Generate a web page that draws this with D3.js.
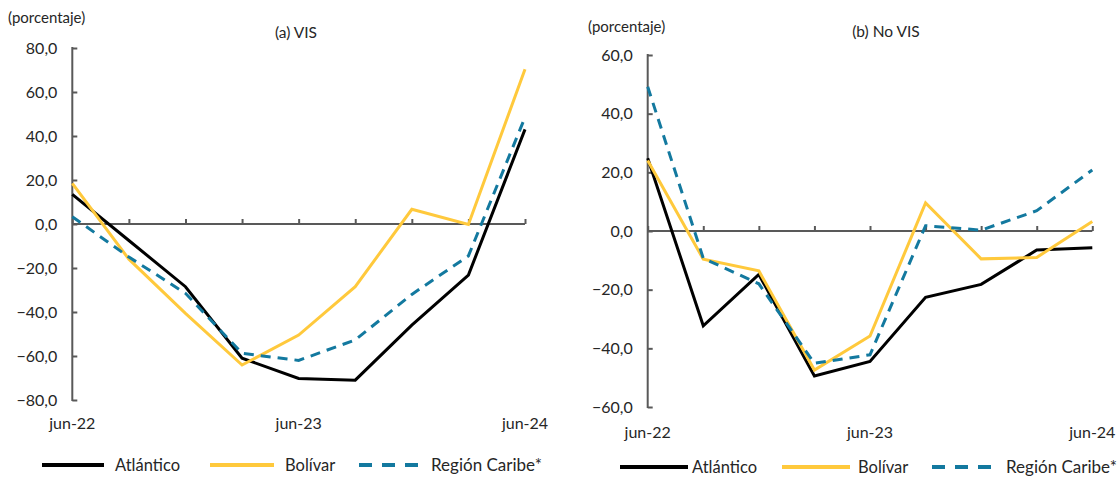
<!DOCTYPE html>
<html>
<head>
<meta charset="utf-8">
<script src="https://cdn.jsdelivr.net/npm/d3@7"></script>
<style>
  html, body { margin: 0; padding: 0; background: #fff; }
  svg { display: block; font-family: Lato, "Open Sans", sans-serif; }
</style>
</head>
<body>
<svg id="chart" width="1120" height="478"></svg>
<script>
// Quarterly periods, jun-22 .. jun-24
const periods = ["jun-22", "sep-22", "dic-22", "mar-23", "jun-23", "sep-23", "dic-23", "mar-24", "jun-24"];
const periodLabels = ["jun-22", "jun-23", "jun-24"];

// (a) VIS — annual variation, percent
const visAtlantico = [13.5, -7.5, -28.5, -61.0, -70.2, -71.0, -46.0, -23.2, 43.0];
const visBolivar   = [18.5, -16.0, -40.6, -64.1, -50.5, -28.5, 6.7, -0.2, 70.3];
const visCaribe    = [3.3, -15.0, -31.5, -58.8, -62.0, -52.7, -32.0, -14.5, 48.5];
const visTicks     = [80, 60, 40, 20, 0, -20, -40, -60, -80];

// (b) No VIS — annual variation, percent
const noVisAtlantico = [24.8, -32.3, -14.8, -49.4, -44.5, -22.6, -18.2, -6.5, -5.7];
const noVisBolivar   = [24.0, -9.6, -13.6, -47.4, -35.8, 9.6, -9.5, -9.0, 3.2];
const noVisCaribe    = [49.2, -9.3, -18.0, -45.1, -42.2, 1.8, 0.3, 6.9, 20.8];
const noVisTicks     = [60, 40, 20, 0, -20, -40, -60];

const seriesNames = ["Atlántico", "Bolívar", "Región Caribe*"];
const seriesStyle = [
  { color: "#000000", dash: null, legendDash: null },
  { color: "#FFC93C", dash: null, legendDash: null },
  { color: "#13799F", dash: "10,7", legendDash: "13,10" }
];

const textColor = "#262626";
const axisColor = "#595959";

const svg = d3.select("#chart");

function panel(cfg) {
  const g = svg.append("g");
  const x = d3.scalePoint().domain(periods).range([cfg.x0, cfg.x1]);
  const y = d3.scaleLinear().domain([cfg.min, cfg.max]).range([cfg.yBottom, cfg.yTop]);

  // unit caption and panel title
  g.append("text").attr("x", cfg.unitX).attr("y", cfg.unitY)
    .attr("font-size", 15).attr("fill", textColor).text("(porcentaje)");
  g.append("text").attr("x", cfg.titleX).attr("y", cfg.titleY)
    .attr("text-anchor", "middle").attr("font-size", 15.5).attr("fill", textColor).text(cfg.title);

  // vertical axis: labels on the left, tick marks pointing into the plot
  const yAxis = d3.axisLeft(y).tickValues(cfg.ticks).tickSizeInner(-5).tickSizeOuter(0).tickPadding(15)
    .tickFormat(d => d3.format(".1f")(d).replace(".", ","));
  const ya = g.append("g").attr("transform", `translate(${cfg.x0},0)`).call(yAxis);
  ya.select(".domain").remove();
  ya.append("line").attr("x1", 0).attr("x2", 0).attr("y1", y(cfg.max) - 1).attr("y2", y(cfg.min) + 1)
    .attr("stroke", axisColor).attr("stroke-width", 2);
  ya.selectAll(".tick line").attr("stroke", axisColor).attr("stroke-width", 2);
  ya.selectAll(".tick text").attr("font-size", 16).attr("fill", textColor)
    .attr("font-family", "Lato, sans-serif");

  // horizontal zero line with upward category ticks
  const xAxis = d3.axisTop(x).tickSize(5).tickFormat("");
  const xa = g.append("g").attr("transform", `translate(0,${y(0)})`).call(xAxis);
  xa.select(".domain").remove();
  xa.append("line").attr("x1", cfg.x0).attr("x2", cfg.x1).attr("y1", 0).attr("y2", 0)
    .attr("stroke", axisColor).attr("stroke-width", 2);
  xa.selectAll(".tick line").attr("stroke", axisColor).attr("stroke-width", 2);

  // category labels below the plot
  g.selectAll(".plabel").data(periodLabels).enter().append("text")
    .attr("x", d => x(d)).attr("y", cfg.labelY)
    .attr("text-anchor", "middle").attr("font-size", 16).attr("fill", textColor).text(d => d);

  // series lines
  const line = d3.line().x((d, i) => x(periods[i])).y(d => y(d)).curve(d3.curveLinear);
  cfg.series.forEach((vals, k) => {
    g.append("path").datum(vals).attr("d", line)
      .attr("fill", "none").attr("stroke", seriesStyle[k].color).attr("stroke-width", 3)
      .attr("stroke-linejoin", "miter").attr("stroke-dasharray", seriesStyle[k].dash);
  });

  // legend
  cfg.legend.forEach((lg, k) => {
    g.append("line").attr("x1", lg.lx1).attr("x2", lg.lx2).attr("y1", cfg.legendY).attr("y2", cfg.legendY)
      .attr("stroke", seriesStyle[k].color).attr("stroke-width", 4)
      .attr("stroke-dasharray", seriesStyle[k].legendDash);
    g.append("text").attr("x", lg.tx).attr("y", cfg.legendY + 6)
      .attr("font-size", k === 2 ? 17 : 16.5).attr("fill", textColor).text(seriesNames[k]);
  });
}

panel({
  title: "(a) VIS", titleX: 296, titleY: 38,
  unitX: 8, unitY: 23,
  x0: 72.3, x1: 525, min: -80, max: 80, yTop: 48, yBottom: 400,
  ticks: visTicks, labelY: 429,
  series: [visAtlantico, visBolivar, visCaribe],
  legendY: 465,
  legend: [{ lx1: 42, lx2: 104, tx: 115 }, { lx1: 210, lx2: 274, tx: 285 }, { lx1: 359, lx2: 425, tx: 431 }]
});

panel({
  title: "(b) No VIS", titleX: 886, titleY: 37,
  unitX: 588, unitY: 32,
  x0: 647.7, x1: 1092.3, min: -60, max: 60, yTop: 55, yBottom: 407,
  ticks: noVisTicks, labelY: 438,
  series: [noVisAtlantico, noVisBolivar, noVisCaribe],
  legendY: 467,
  legend: [{ lx1: 620, lx2: 688, tx: 692 }, { lx1: 782, lx2: 850, tx: 858 }, { lx1: 932, lx2: 1000, tx: 1006 }]
});
</script>
</body>
</html>
